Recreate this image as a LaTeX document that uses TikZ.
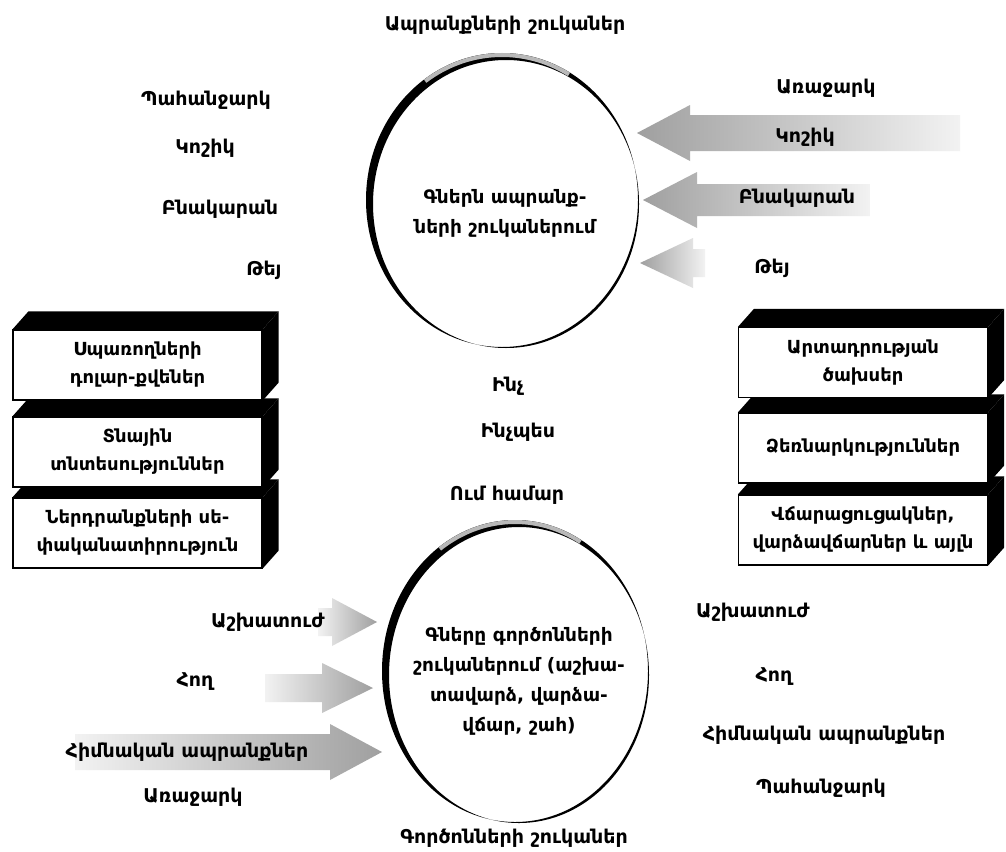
\documentclass[tikz,border=0pt]{standalone}
\usepackage{fontspec}
\setmainfont{DejaVu Sans}
\begin{document}
\begin{tikzpicture}[x=1pt,y=-1pt,
  lbl/.style={font=\fontsize{19}{22}\selectfont\bfseries, inner sep=0pt, text=black},
  ctext/.style={font=\fontsize{18.5}{30}\selectfont\bfseries, inner sep=0pt, align=center},
  frontbox/.style={draw=black, line width=1.2pt, fill=white, minimum width=249pt, minimum height=70pt, inner sep=0pt, align=center, font=\fontsize{18}{28}\selectfont\bfseries},
  larrow/.style={left color=gray!75, right color=gray!10, draw=none},
  rarrow/.style={left color=gray!10, right color=gray!75, draw=none},
  shell/.style={fill=black, even odd rule}
]
\useasboundingbox (0,0) rectangle (1006,851);
\fill[white] (0,0) rectangle (1006,851);

% ---------- top circle ----------
\coordinate (tc) at (502,200);
\fill[shell] (tc) ellipse [x radius=136pt, y radius=147pt]
  (506,204) ellipse [x radius=133pt, y radius=144pt];
\draw[gray!55, line width=4pt] (tc) ++(60:{134pt} and {145pt}) arc[start angle=60, end angle=125, x radius=134pt, y radius=145pt];
\node[ctext] (tctext) at (505,213) {Գներն ապրանք-\\ների շուկաներում};

% ---------- bottom circle ----------
\coordinate (bc) at (515,671);
\fill[shell] (bc) ellipse [x radius=133pt, y radius=151pt]
  (519,675) ellipse [x radius=130pt, y radius=148pt];
\draw[gray!55, line width=4pt] (bc) ++(60:{131pt} and {149pt}) arc[start angle=60, end angle=125, x radius=131pt, y radius=149pt];
\node[ctext] (bctext) at (519,681) {Գները գործոնների\\շուկաներում (աշխա-\\տավարձ, վարձա-\\վճար, շահ)};

% ---------- titles ----------
\node[lbl] (ttitle) at (505,25) {Ապրանքների շուկաներ};
\node[lbl] (btitle) at (514,838) {Գործոնների շուկաներ};

% ---------- top-left labels ----------
\node[lbl] (dem1) at (206,100) {Պահանջարկ};
\node[lbl] (shoe1) at (205,148) {Կոշիկ};
\node[lbl] (flat1) at (220,209) {Բնակարան};
\node[lbl] (tea1) at (264,270) {Թեյ};

% ---------- top-right arrows and labels ----------
\node[lbl] (sup1) at (826,88) {Առաջարկ};
\shade[larrow] (637,133) -- (690,105) -- (690,115) -- (960,115) -- (960,151) -- (690,151) -- (690,161) -- cycle;
\shade[larrow] (643,200) -- (697,172) -- (697,184) -- (870,184) -- (870,216) -- (697,216) -- (697,228) -- cycle;
\shade[larrow] (640,263) -- (693,238) -- (693,249) -- (705,249) -- (705,277) -- (693,277) -- (693,288) -- cycle;
\node[lbl] (shoe2) at (805,137) {Կոշիկ};
\node[lbl] (flat2) at (797,198) {Բնակարան};
\node[lbl] (tea2) at (772,268) {Թեյ};

% ---------- middle questions ----------
\node[lbl] (what) at (508,386) {Ինչ};
\node[lbl] (how) at (518,432) {Ինչպես};
\node[lbl] (whom) at (507,495) {Ում համար};

% ---------- left blocks (drawn bottom to top) ----------
\node[frontbox] (lb3) at (137.5,533) {Ներդրանքների սե-\\փականատիրություն};
\node[frontbox] (lb2) at (137.5,452) {Տնային\\տնտեսություններ};
\node[frontbox] (lb1) at (137.5,365) {Սպառողների\\դոլար-քվեներ};
\foreach \b in {lb3,lb2,lb1}{
  \fill[black] (\b.north west) -- ++(16,-18) -- ([shift={(16,-18)}]\b.north east) -- (\b.north east) -- cycle;
  \fill[black] (\b.north east) -- ++(16,-18) -- ([shift={(16,-18)}]\b.south east) -- (\b.south east) -- cycle;
}
\node[frontbox] at (lb2) {Տնային\\տնտեսություններ};
\node[frontbox] at (lb1) {Սպառողների\\դոլար-քվեներ};

% ---------- right blocks ----------
\node[frontbox] (rb3) at (863,530) {Վճարացուցակներ,\\վարձավճարներ և այլն};
\node[frontbox] (rb2) at (863,448) {Ձեռնարկություններ};
\node[frontbox] (rb1) at (863,362.5) {Արտադրության\\ծախսեր};
\foreach \b in {rb3,rb2,rb1}{
  \fill[black] (\b.north west) -- ++(16,-18) -- ([shift={(16,-18)}]\b.north east) -- (\b.north east) -- cycle;
  \fill[black] (\b.north east) -- ++(16,-18) -- ([shift={(16,-18)}]\b.south east) -- (\b.south east) -- cycle;
}
\node[frontbox] at (rb2) {Ձեռնարկություններ};
\node[frontbox] at (rb1) {Արտադրության\\ծախսեր};

% ---------- bottom-left arrows and labels ----------
\shade[rarrow] (377,622) -- (332,598) -- (332,608) -- (318,608) -- (318,636) -- (332,636) -- (332,646) -- cycle;
\shade[rarrow] (373,688) -- (322,663) -- (322,674) -- (265,674) -- (265,702) -- (322,702) -- (322,713) -- cycle;
\shade[rarrow] (382,752) -- (330,724) -- (330,734) -- (75,734) -- (75,770) -- (330,770) -- (330,780) -- cycle;
\node[lbl] (lab1) at (268,622) {Աշխատուժ};
\node[lbl] (land1) at (195,682) {Հող};
\node[lbl] (cap1) at (187,752) {Հիմնական ապրանքներ};
\node[lbl] (sup2) at (193,797) {Առաջարկ};

% ---------- bottom-right labels ----------
\node[lbl] (lab2) at (753,612) {Աշխատուժ};
\node[lbl] (land2) at (774,677) {Հող};
\node[lbl] (cap2) at (824,735) {Հիմնական ապրանքներ};
\node[lbl] (dem2) at (821,788) {Պահանջարկ};
\end{tikzpicture}
\end{document}
